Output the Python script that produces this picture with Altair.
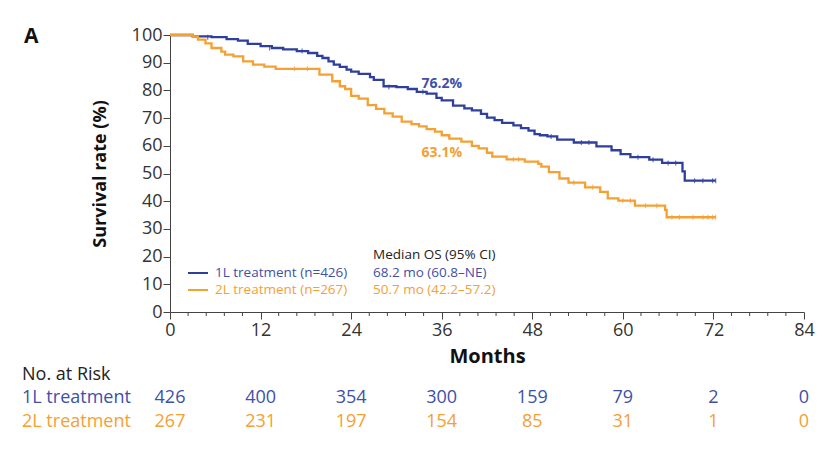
import altair as alt
import pandas as pd

# ---------------- data ----------------
groups = ["1L treatment", "2L treatment"]
colors = ["#2E3F9E", "#F5A033"]
text_colors = ["#3E50A8", "#F5A033"]

t_1L = [0, 3.0, 5.5, 7.5, 9.0, 10.3, 12.0, 13.5, 15.0, 16.8, 18.3, 19.5, 20.2, 21.0,
        21.7, 22.5, 23.4, 24.0, 25.0, 26.5, 27.0, 28.3, 30.0, 31.5, 32.7, 34.0, 35.3,
        36.0, 37.5, 39.0, 40.0, 41.2, 42.0, 43.0, 44.0, 45.5, 46.5, 47.5, 48.3, 49.0,
        50.0, 51.3, 53.5, 56.5, 58.5, 59.7, 61.0, 63.5, 65.2, 67.9, 68.2, 72.3]
s_1L = [100, 99.5, 99.2, 98.5, 98.0, 96.8, 96.0, 95.3, 94.8, 94.2, 93.5, 92.5, 91.7, 90.5,
        89.3, 88.5, 87.5, 86.8, 86.0, 84.8, 83.8, 81.5, 81.2, 80.5, 79.5, 78.8, 77.3,
        76.4, 74.5, 73.5, 72.8, 71.5, 70.2, 69.3, 68.3, 67.4, 66.4, 65.5, 64.2, 63.8,
        63.4, 62.2, 61.2, 59.8, 58.4, 57.0, 55.9, 55.0, 53.8, 50.8, 47.4, 47.4]

t_2L = [0, 3.0, 3.7, 4.7, 5.5, 6.8, 7.3, 8.4, 9.7, 11.0, 12.5, 14.0, 19.4, 19.8, 21.5,
        22.5, 23.2, 24.0, 25.0, 26.2, 27.3, 28.4, 29.5, 30.7, 32.0, 33.0, 34.0, 35.1,
        36.0, 37.0, 38.6, 40.0, 40.9, 42.0, 42.7, 44.6, 47.0, 48.8, 49.2, 50.2, 51.6,
        52.8, 55.0, 57.0, 58.0, 59.4, 61.6, 65.6, 65.8, 72.3]
s_2L = [100, 99.5, 98.3, 97.0, 95.3, 94.0, 92.9, 92.3, 90.5, 89.3, 88.6, 87.8, 87.8, 85.7, 83.3,
        81.5, 80.5, 78.0, 77.0, 74.7, 73.3, 71.7, 70.5, 68.7, 67.8, 67.0, 66.0, 65.1,
        63.8, 62.6, 61.5, 60.0, 59.1, 57.5, 56.1, 55.1, 54.3, 53.5, 52.5, 50.5, 48.2,
        46.7, 45.0, 43.4, 41.0, 40.2, 38.4, 36.9, 34.2, 34.2]

cens_t_1L = [5.0, 13.2, 17.5, 29.0, 33.5, 50.5, 54.5, 55.5, 62.0, 64.0, 66.0, 67.0, 69.5, 70.6, 71.9, 72.3]
cens_s_1L = [99.2, 95.3, 94.2, 81.2, 79.5, 63.4, 61.2, 61.2, 55.9, 55.0, 53.8, 53.8, 47.4, 47.4, 47.4, 47.4]
cens_t_2L = [16.5, 18.2, 45.5, 46.2, 53.5, 56.0, 60.0, 61.0, 63.0, 64.5, 66.5, 67.5, 69.3, 70.6, 71.3, 71.9, 72.3]
cens_s_2L = [87.8, 87.8, 55.1, 55.1, 46.7, 45.0, 40.2, 40.2, 38.4, 38.4, 34.2, 34.2, 34.2, 34.2, 34.2, 34.2, 34.2]

x_ticks = [0, 12, 24, 36, 48, 60, 72, 84]
x_minor = [2.4, 4.8, 7.2, 9.6, 14.4, 16.8, 19.2, 21.6, 26.4, 28.8, 31.2, 33.6,
           38.4, 40.8, 43.2, 45.6, 50.4, 52.8, 55.2, 57.6, 62.4, 64.8, 67.2, 69.6,
           74.4, 76.8, 79.2, 81.6]
y_ticks = [0, 10, 20, 30, 40, 50, 60, 70, 80, 90, 100]

risk_1L = [426, 400, 354, 300, 159, 79, 2, 0]
risk_2L = [267, 231, 197, 154, 85, 31, 1, 0]

legend_labels = ["1L treatment (n=426)", "2L treatment (n=267)"]
median_header = "Median OS (95% CI)"
median_labels = ["68.2 mo (60.8–NE)", "50.7 mo (42.2–57.2)"]
landmark_month = 36
landmark_labels = ["76.2%", "63.1%"]

FONT = "Open Sans"
W, H = 634, 277

# ---------------- tables ----------------
curves = pd.concat([
    pd.DataFrame({"month": t_1L, "surv": s_1L, "group": groups[0]}),
    pd.DataFrame({"month": t_2L, "surv": s_2L, "group": groups[1]}),
])
cens = pd.concat([
    pd.DataFrame({"month": cens_t_1L, "surv": cens_s_1L, "group": groups[0]}),
    pd.DataFrame({"month": cens_t_2L, "surv": cens_s_2L, "group": groups[1]}),
])
color_scale = alt.Scale(domain=groups, range=colors)

xscale = alt.Scale(domain=[0, 84], nice=False)
yscale = alt.Scale(domain=[0, 100], nice=False)

x_axis = alt.Axis(
    values=x_ticks, title="Months", grid=False, labelFontSize=18, labelFont=FONT,
    labelColor="#333333", tickSize=7, tickColor="#444444", domainColor="#444444",
    labelPadding=2, titleFont=FONT, titleFontSize=20, titleFontWeight="bold",
    titleColor="#111111", titleY=44, titleBaseline="middle", labelFlush=False,
    labelOverlap=False)
y_axis = alt.Axis(
    values=y_ticks, title="Survival rate (%)", grid=False, labelFontSize=18, labelFont=FONT,
    labelColor="#333333", tickSize=7, tickColor="#444444", domainColor="#444444",
    labelPadding=1, titleFont=FONT, titleFontSize=18, titleFontWeight="bold",
    titleColor="#111111", titleX=-70, titleY=H / 2, titleAngle=270,
    titleAlign="center", titleBaseline="middle", labelFlush=False,
    labelOverlap=False)


def xe():
    return alt.X("month:Q", scale=xscale, axis=x_axis)


def ye():
    return alt.Y("surv:Q", scale=yscale, axis=y_axis)


lines = alt.Chart(curves).mark_line(interpolate="step-after", strokeWidth=2.3).encode(
    x=xe(), y=ye(),
    color=alt.Color("group:N", scale=color_scale, legend=None),
    detail="group:N",
)

cens_marks = alt.Chart(cens).mark_point(shape="M0,-1L0,1", size=25, strokeWidth=1.2, filled=False).encode(
    x=xe(), y=ye(),
    color=alt.Color("group:N", scale=color_scale, legend=None),
)

minor = alt.Chart(pd.DataFrame({"month": x_minor})).mark_rule(color="#444444", strokeWidth=1).encode(
    x=xe(), y=alt.value(H), y2=alt.value(H + 4))

layers = [lines, minor, cens_marks]

# landmark labels (3-year rates) at month 36
for lab, col, py in zip(landmark_labels, text_colors, [49, 117.5]):
    layers.append(
        alt.Chart(pd.DataFrame({"month": [landmark_month], "t": [lab]})).mark_text(
            font=FONT, fontSize=14, fontWeight="bold", baseline="middle", color=col).encode(
            x=xe(), y=alt.value(py), text="t:N"))

# legend block
for lab, med, lcol, tcol, py in zip(legend_labels, median_labels, colors, text_colors, [238, 255]):
    layers.append(
        alt.Chart(pd.DataFrame({"t": [lab]})).mark_rule(strokeWidth=2, color=lcol).encode(
            x=alt.value(18), x2=alt.value(38), y=alt.value(py)))
    layers.append(
        alt.Chart(pd.DataFrame({"t": [lab]})).mark_text(
            font=FONT, fontSize=13.5, align="left", baseline="middle", color=tcol).encode(
            x=alt.value(45), y=alt.value(py), text="t:N"))
    layers.append(
        alt.Chart(pd.DataFrame({"t": [med]})).mark_text(
            font=FONT, fontSize=13.5, align="left", baseline="middle", color=tcol).encode(
            x=alt.value(203), y=alt.value(py), text="t:N"))
layers.append(
    alt.Chart(pd.DataFrame({"t": [median_header]})).mark_text(
        font=FONT, fontSize=13.5, align="left", baseline="middle", color="#222222").encode(
        x=alt.value(203), y=alt.value(220), text="t:N"))

# panel letter
layers.append(
    alt.Chart(pd.DataFrame({"t": ["A"]})).mark_text(
        font=FONT, fontSize=21, fontWeight="bold", align="left", baseline="middle", color="#111111").encode(
        x=alt.value(-146), y=alt.value(2), text="t:N"))

# risk table
layers.append(
    alt.Chart(pd.DataFrame({"t": ["No. at Risk"]})).mark_text(
        font=FONT, fontSize=18, baseline="middle", align="left", color="#222222").encode(
        x=alt.value(-148), y=alt.value(340), text="t:N"))
for g, counts, tcol, py in zip(groups, [risk_1L, risk_2L], text_colors, [363, 387]):
    layers.append(
        alt.Chart(pd.DataFrame({"t": [g]})).mark_text(
            font=FONT, fontSize=18, baseline="middle", align="left", color=tcol).encode(
            x=alt.value(-148), y=alt.value(py), text="t:N"))
    layers.append(
        alt.Chart(pd.DataFrame({"month": x_ticks, "n": counts})).mark_text(
            font=FONT, fontSize=18, baseline="middle", color=tcol).encode(
            x=xe(), y=alt.value(py), text="n:Q"))

chart = alt.layer(*layers).properties(
    width=W, height=H,
    background="white",
    autosize=alt.AutoSizeParams(type="none"),
    padding={"left": 162, "top": 27, "right": 19, "bottom": 130},
).configure_view(strokeWidth=0).configure_axis(grid=False)

chart.save("out.html", embed_options={"renderer": "svg", "actions": False})
